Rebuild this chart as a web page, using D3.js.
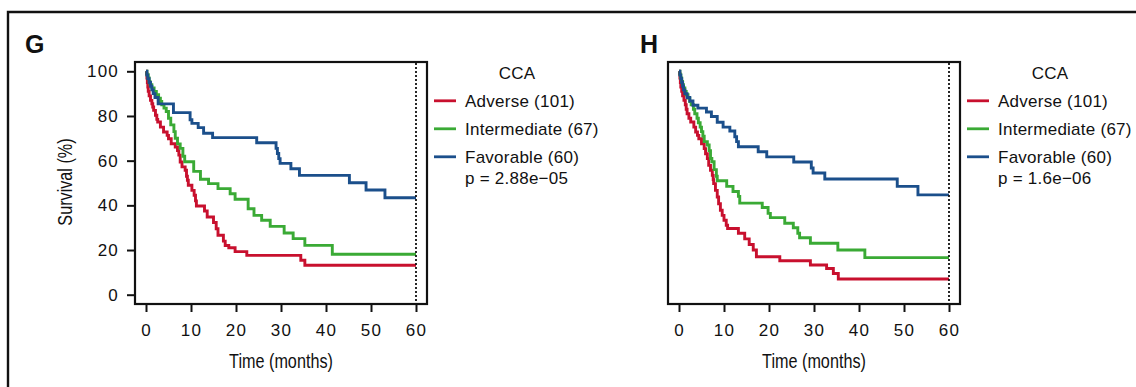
<!DOCTYPE html>
<html>
<head>
<meta charset="utf-8">
<script src="https://cdn.jsdelivr.net/npm/d3@7"></script>
<style>
  html, body { margin: 0; padding: 0; background: #fff; }
  svg { display: block; }
  .tick text { font-family: "Liberation Sans", Arial, sans-serif; font-size: 17px; letter-spacing: 1.2px; fill: #111; }
  .tick line { stroke: #111; stroke-width: 2; }
</style>
</head>
<body>
<script>
// ---------------- DATA ----------------
const xTicks = [0, 10, 20, 30, 40, 50, 60];
const yTicks = [0, 20, 40, 60, 80, 100];
const panelLetters = ["G", "H"];
const legendTitle = "CCA";
const groupLabels = ["Adverse (101)", "Intermediate (67)", "Favorable (60)"];
const pValues = ["p = 2.88e\u221205", "p = 1.6e\u221206"];
const maxTime = 60;

// Panel G: [time (months), survival (%)] step points
const gAdverse = [[0,100],[0.1,99],[0.2,97],[0.3,95],[0.4,93],[0.5,91],[0.7,89],[1.0,87],[1.3,85.5],[1.5,84],[1.7,82.5],[2.1,80.3],[2.4,78.5],[2.6,77.3],[3.2,75],[3.9,72.8],[4.7,71.3],[5.0,69.8],[5.6,67.6],[6.5,66.1],[7.0,64.5],[7.3,62.5],[7.6,59.4],[8.0,57.2],[8.7,55.7],[9.0,53],[9.2,51.2],[9.4,49],[10.2,46.7],[10.7,44.5],[11.0,42],[11.2,39.7],[13.0,37.5],[13.6,34.8],[15.0,32.3],[15.6,29.5],[16.0,26.6],[17.2,24],[17.6,22],[18.4,21],[19.8,19.3],[22.4,17.6],[34.4,15.4],[35.3,13.2]];
const gIntermediate = [[0,100],[0.2,98.5],[0.5,97],[0.7,95.5],[0.9,94],[1.3,92.5],[1.8,91],[2.3,89.5],[2.8,88],[3.2,86.5],[3.5,85],[4.0,83.5],[4.5,82],[5.0,79],[5.5,76],[6.2,73],[6.5,70],[7.0,67.5],[7.6,65.5],[8.2,62],[8.6,59.5],[10.6,55.2],[12.1,51.7],[13.9,49.7],[16.0,47.5],[18.7,45.2],[19.8,42.7],[22.7,38.5],[24.0,35.5],[25.7,33.3],[27.6,30.6],[30.7,27.6],[32.7,25.1],[35.3,22.1],[41.4,18.1]];
const gFavorable = [[0,100],[0.2,98.3],[0.4,96.7],[0.7,95],[1.0,93.3],[1.3,91.7],[1.6,90],[2.0,88.3],[2.7,85.4],[6.1,81.5],[9.8,78.3],[10.2,76.7],[11.6,74.8],[12.8,72.3],[14.8,70.3],[24.6,68],[28.9,65.5],[29.2,63.2],[29.5,60.9],[29.8,58.8],[32.2,56.4],[34.1,53.4],[45.2,50.1],[48.9,46.9],[53.1,43.4]];

// Panel H
const hAdverse = [[0,100],[0.1,99],[0.2,97],[0.3,95],[0.4,93],[0.6,91],[0.8,89],[1.1,87],[1.4,85],[1.6,83],[1.8,81],[2.2,79],[2.6,77.3],[3.3,75],[3.7,72.8],[4.1,71.3],[4.4,69.8],[5.0,67.6],[5.6,65.4],[5.9,63.1],[6.3,60.9],[6.6,57.9],[7.0,55.7],[7.4,53.4],[7.6,51.5],[7.7,49.7],[8.1,46.7],[8.5,43.7],[8.8,40.7],[9.2,37.8],[9.6,35.5],[10.0,33.3],[10.5,31.1],[10.8,29.6],[13.2,27.5],[14.6,25],[15.6,22.5],[16.5,20],[17.2,17],[22.4,15.2],[29.2,13.3],[32.8,11.7],[34.3,9.5],[35.4,7]];
const hIntermediate = [[0,100],[0.2,98.5],[0.4,97],[0.6,95.5],[0.8,94],[1.0,92.5],[1.3,91],[1.6,89.5],[2.0,88],[2.4,86.5],[2.7,85],[3.2,83],[3.5,81],[4.0,79],[4.3,77],[4.7,75],[5.0,73],[5.3,71],[5.6,68.5],[6.3,67],[6.7,64.5],[7.0,61],[7.3,59.5],[7.8,56],[8.3,53],[8.5,51],[10.6,48.5],[12.0,46.2],[13.2,44],[13.5,41],[18.5,39],[19.8,36.4],[20.3,34.5],[23.5,32],[25.4,30],[26.4,27.5],[26.8,25.5],[29.2,23],[35.3,20],[41.3,16.6]];
const hFavorable = [[0,100],[0.2,98.3],[0.4,96.7],[0.6,95],[0.8,93.3],[1.0,91.7],[1.3,90],[1.8,88.3],[2.4,86.7],[3.1,84.8],[4.2,83.5],[6.1,81.8],[7.2,79.8],[8.5,77.2],[9.8,75],[11.3,73.3],[12.4,70.7],[12.8,68.5],[13.2,66.2],[17.6,64],[19.5,61.7],[25.5,59.4],[29.4,56.7],[29.8,54.5],[32.4,51.8],[48.5,48.5],[53.1,44.7]];

const colors = ["#c8102e", "#3aaa35", "#1b4f8b"];

// ---------------- LAYOUT ----------------
const W = 1136, H = 387;
const svg = d3.select("body").append("svg").attr("width", W).attr("height", H);

// outer frame (top and left)
svg.append("path")
  .attr("d", `M8,${H} L8,12 L${W},12`)
  .attr("fill", "none").attr("stroke", "#111").attr("stroke-width", 2.4);

const x = d3.scaleLinear().domain([0, 60]).range([146, 416]);
const y = d3.scaleLinear().domain([0, 100]).range([294.7, 71.3]);

const line = d3.line().x(d => x(d[0])).y(d => y(d[1])).curve(d3.curveStepAfter);

const panels = [
  { dx: 0, letterX: 25, series: [gAdverse, gIntermediate, gFavorable], yAxis: true },
  { dx: 533, letterX: 107, series: [hAdverse, hIntermediate, hFavorable], yAxis: false }
];

const narrowFont = "Liberation Sans, Arial, sans-serif";

panels.forEach((p, i) => {
  const g = svg.append("g").attr("transform", `translate(${p.dx},0)`);

  // panel letter
  g.append("text").attr("x", p.letterX).attr("y", 53)
    .attr("font-family", "Liberation Sans, Arial, sans-serif")
    .attr("font-weight", "bold").attr("font-size", 25).attr("fill", "#111")
    .text(panelLetters[i]);

  // curves
  p.series.forEach((s, k) => {
    const pts = s.concat([[maxTime, s[s.length - 1][1]]]);
    g.append("path").attr("d", line(pts))
      .attr("fill", "none").attr("stroke", colors[k])
      .attr("stroke-width", 2.9).attr("stroke-linejoin", "miter");
  });

  // dotted line at max time
  g.append("line")
    .attr("x1", x(maxTime)).attr("x2", x(maxTime))
    .attr("y1", 63).attr("y2", 303)
    .attr("stroke", "#111").attr("stroke-width", 1.8)
    .attr("stroke-dasharray", "2,2");

  // box
  g.append("rect").attr("x", 135).attr("y", 62).attr("width", 292).attr("height", 242)
    .attr("fill", "none").attr("stroke", "#111").attr("stroke-width", 2.2);

  // x axis
  const xa = g.append("g").attr("transform", "translate(0,305)")
    .call(d3.axisBottom(x).tickValues(xTicks).tickSize(7).tickPadding(12));
  xa.select(".domain").remove();

  if (p.yAxis) {
    const ya = g.append("g").attr("transform", "translate(134,0)")
      .call(d3.axisLeft(y).tickValues(yTicks).tickSize(7).tickPadding(8));
    ya.select(".domain").remove();

    g.append("text")
      .attr("transform", `translate(71.5,182) rotate(-90) scale(0.81,1)`)
      .attr("text-anchor", "middle")
      .attr("font-family", narrowFont)
      .attr("font-size", 20).attr("fill", "#111")
      .text("Survival (%)");
  }

  g.append("text")
    .attr("transform", "translate(281,367.5) scale(0.81,1)")
    .attr("text-anchor", "middle")
    .attr("font-family", narrowFont)
    .attr("font-size", 20).attr("fill", "#111")
    .text("Time (months)");

  // legend
  const lg = g.append("g")
    .attr("font-family", "Liberation Sans, Arial, sans-serif")
    .attr("font-size", 17).attr("fill", "#111").attr("letter-spacing", "0.25px");
  lg.append("text").attr("x", 517).attr("y", 78.5).attr("text-anchor", "middle").text(legendTitle);
  groupLabels.forEach((lab, k) => {
    const yy = 107.3 + k * 28;
    lg.append("line").attr("x1", 434).attr("x2", 456)
      .attr("y1", yy - 6.5).attr("y2", yy - 6.5)
      .attr("stroke", colors[k]).attr("stroke-width", 2.8);
    lg.append("text").attr("x", 465).attr("y", yy).text(lab);
  });
  lg.append("text").attr("x", 465).attr("y", 183.5).text(pValues[i]);
});
</script>
</body>
</html>
